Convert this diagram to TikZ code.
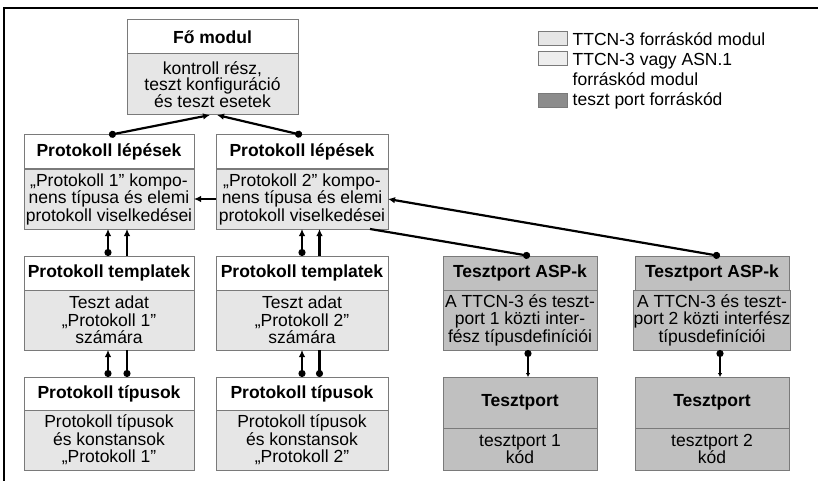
\documentclass[tikz,border=0pt]{standalone}
\usepackage{fontspec}
\setmainfont{Liberation Sans}
\usetikzlibrary{positioning,calc,arrows.meta}
\definecolor{bodygray}{HTML}{E6E6E6}
\definecolor{lightgray2}{HTML}{EEEEEE}
\definecolor{portgray}{HTML}{C0C0C0}
\definecolor{leggray}{HTML}{8C8C8C}
\definecolor{edgegray}{HTML}{7A7A7A}
\tikzset{
  head/.style={draw=edgegray, fill=white, anchor=north west, inner sep=0pt, outer sep=0pt,
    line width=1pt, font=\bfseries\fontsize{17.5}{17.5}\selectfont, minimum height=34pt, minimum width=#1},
  body/.style={draw=edgegray, fill=bodygray, inner sep=0pt, outer sep=0pt, align=center,
    line width=1pt, font=\fontsize{17.5}{17.5}\selectfont, minimum height=60pt, minimum width=#1},
  port/.style={fill=portgray},
  legbox/.style={draw=edgegray, line width=1pt, minimum width=29pt, minimum height=14pt, inner sep=0pt},
  legtext/.style={font=\fontsize{17.5}{20}\selectfont, inner sep=0pt, align=left},
  link/.style={line width=2.2pt, {Circle[length=7pt]}-{Latex[length=7pt,width=6.5pt]}},
  arr/.style={line width=2.2pt, -{Latex[length=7pt,width=6.5pt]}},
  dotline/.style={line width=2.2pt, {Circle[length=7pt]}-},
}
\begin{document}
\begin{tikzpicture}[x=1pt,y=1pt]
\useasboundingbox (0,0) rectangle (818,-481);
\draw[line width=1.4pt] (4,-481) -- (4,-8) -- (818,-8);

% main module
\node[head=171pt] (foh) at (127,-20) {Fő modul};
\node[body=171pt, below=0pt of foh, minimum height=61pt, font=\fontsize{17.5}{16}\selectfont] (fo) {kontroll rész,\\teszt konfiguráció\\és teszt esetek};

% protocol 1 column
\node[head=170pt] (lep1h) at (24,-135) {Protokoll lépések};
\node[body=170pt, below=0pt of lep1h] (lep1) {„Protokoll 1” kompo-\\nens típusa és elemi\\protokoll viselkedései};
\node[head=170pt] (tpl1h) at (24,-256) {Protokoll templatek};
\node[body=170pt, below=0pt of tpl1h] (tpl1) {Teszt adat\\„Protokoll 1”\\számára};
\node[head=170pt, minimum height=33pt] (typ1h) at (24,-377) {Protokoll típusok};
\node[body=170pt, below=0pt of typ1h] (typ1) {Protokoll típusok\\és konstansok\\„Protokoll 1”};

% protocol 2 column
\node[head=172pt] (lep2h) at (216,-135) {Protokoll lépések};
\node[body=172pt, below=0pt of lep2h] (lep2) {„Protokoll 2” kompo-\\nens típusa és elemi\\protokoll viselkedései};
\node[head=172pt] (tpl2h) at (216,-256) {Protokoll templatek};
\node[body=172pt, below=0pt of tpl2h] (tpl2) {Teszt adat\\„Protokoll 2”\\számára};
\node[head=172pt, minimum height=33pt] (typ2h) at (216,-377) {Protokoll típusok};
\node[body=172pt, below=0pt of typ2h] (typ2) {Protokoll típusok\\és konstansok\\„Protokoll 2”};

% test ports
\node[head=154pt, port] (asp1h) at (443,-256) {Tesztport ASP-k};
\node[body=154pt, port, below=0pt of asp1h] (asp1) {A TTCN-3 és teszt-\\port 1 közti inter-\\fész típusdefiníciói};
\node[head=154pt, port, minimum height=51pt] (port1h) at (443,-377) {Tesztport};
\node[body=154pt, port, below=0pt of port1h, minimum height=42pt] (port1) {tesztport 1\\kód};
\node[head=154pt, port] (asp2h) at (635,-256) {Tesztport ASP-k};
\node[body=154pt, port, below=0pt of asp2h] (asp2) {A TTCN-3 és teszt-\\port 2 közti interfész\\típusdefiníciói};
\node[head=154pt, port, minimum height=51pt] (port2h) at (635,-377) {Tesztport};
\node[body=154pt, port, below=0pt of port2h, minimum height=42pt] (port2) {tesztport 2\\kód};

% connectors
\draw[link] (lep1h.north) -- ($(fo.south)+(-2.5,0)$);
\draw[link] (lep2h.north) -- ($(fo.south)+(4.5,0)$);
\draw[arr] (lep2) -- (lep1);
\draw[link] ($(asp2h.north)+(8,0)$) -- (lep2.east);
\draw[dotline] ($(asp1h.north)+(10,0)$) -- ($(lep2.south east)+(-18,0)$);
\draw[link] ($(tpl1h.north)+(-1,0)$) -- ($(lep1.south)+(-1,0)$);
\draw[arr] ($(tpl1h.north)+(18,0)$) -- ($(lep1.south)+(18,0)$);
\draw[link] ($(typ1h.north)+(-1,0)$) -- ($(tpl1.south)+(-1,0)$);
\draw[dotline] ($(typ1h.north)+(18,0)$) -- ($(tpl1.south)+(18,0)$);
\draw[link] (tpl2h.north) -- (lep2.south);
\draw[arr] ($(tpl2h.north)+(17.5,0)$) -- ($(lep2.south)+(17.5,0)$);
\draw[link] (typ2h.north) -- (tpl2.south);
\draw[dotline] ($(typ2h.north)+(17.5,0)$) -- ($(tpl2.south)+(17.5,0)$);
\draw[line width=2.2pt, {Circle[length=7pt]}-{Latex[length=4pt,width=4.5pt]}] ($(asp1.south)+(8,0)$) -- ($(port1h.north)+(8,0)$);
\draw[line width=2.2pt, {Circle[length=7pt]}-{Latex[length=4pt,width=4.5pt]}] ($(asp2.south)+(8,0)$) -- ($(port2h.north)+(8,0)$);

% legend
\node[legbox, fill=bodygray] (leg1) at (552.5,-39) {};
\node[legtext, anchor=west, right=5pt of leg1] (legt1) {TTCN-3 forráskód modul};
\node[legbox, fill=lightgray2] (leg2) at (552.5,-59) {};
\node[legtext, anchor=west] (legt2) at ($(leg2.east)+(5,-10)$) {TTCN-3 vagy ASN.1\\forráskód modul};
\node[legbox, fill=leggray] (leg3) at (552.5,-101) {};
\node[legtext, right=5pt of leg3] (legt3) {teszt port forráskód};
\end{tikzpicture}
\end{document}
